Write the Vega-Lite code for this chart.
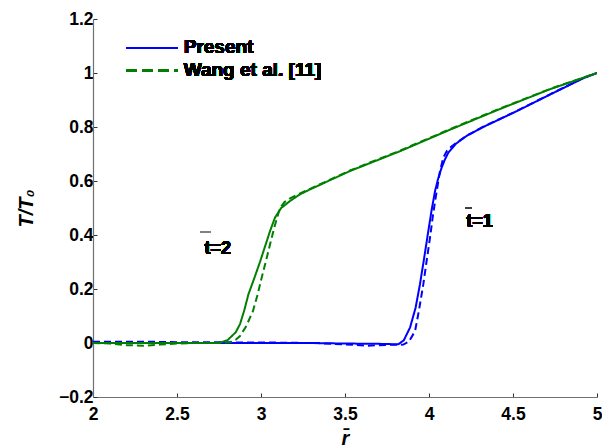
{
  "$schema": "https://vega.github.io/schema/vega-lite/v6.json",
  "width": 504,
  "height": 378,
  "autosize": {"type": "none"},
  "padding": {"left": 93, "top": 19, "right": 5, "bottom": 51},
  "background": "white",
  "config": {
    "view": {"stroke": null},
    "font": "Liberation Sans",
    "axis": {
      "grid": false,
      "labelFont": "Liberation Sans",
      "labelFontWeight": "bold",
      "labelFontSize": 17.5,
      "labelColor": "#000000",
      "labelFlush": false,
      "labelOverlap": false,
      "domainColor": "#707070",
      "domainWidth": 1.2,
      "tickColor": "#303030",
      "tickSize": -4,
      "labelPadding": 4,
      "titleFont": "Liberation Sans",
      "titleFontWeight": "bold",
      "titleFontStyle": "italic",
      "titleFontSize": 20,
      "titleColor": "#000000"
    }
  },
  "data": {
    "values": [
      {"r": 2.0, "T": 0.0, "t": "t1", "src": "Present"},
      {"r": 2.5, "T": 0.0, "t": "t1", "src": "Present"},
      {"r": 3.0, "T": 0.0, "t": "t1", "src": "Present"},
      {"r": 3.3, "T": 0.0, "t": "t1", "src": "Present"},
      {"r": 3.5, "T": -0.002, "t": "t1", "src": "Present"},
      {"r": 3.7, "T": -0.003, "t": "t1", "src": "Present"},
      {"r": 3.817, "T": -0.005, "t": "t1", "src": "Present"},
      {"r": 3.85, "T": 0.01, "t": "t1", "src": "Present"},
      {"r": 3.887, "T": 0.057, "t": "t1", "src": "Present"},
      {"r": 3.92, "T": 0.13, "t": "t1", "src": "Present"},
      {"r": 3.946, "T": 0.217, "t": "t1", "src": "Present"},
      {"r": 3.97, "T": 0.31, "t": "t1", "src": "Present"},
      {"r": 3.996, "T": 0.415, "t": "t1", "src": "Present"},
      {"r": 4.015, "T": 0.49, "t": "t1", "src": "Present"},
      {"r": 4.036, "T": 0.563, "t": "t1", "src": "Present"},
      {"r": 4.055, "T": 0.61, "t": "t1", "src": "Present"},
      {"r": 4.075, "T": 0.649, "t": "t1", "src": "Present"},
      {"r": 4.095, "T": 0.68, "t": "t1", "src": "Present"},
      {"r": 4.115, "T": 0.705, "t": "t1", "src": "Present"},
      {"r": 4.16, "T": 0.738, "t": "t1", "src": "Present"},
      {"r": 4.224, "T": 0.767, "t": "t1", "src": "Present"},
      {"r": 4.323, "T": 0.8, "t": "t1", "src": "Present"},
      {"r": 4.442, "T": 0.835, "t": "t1", "src": "Present"},
      {"r": 4.52, "T": 0.858, "t": "t1", "src": "Present"},
      {"r": 4.72, "T": 0.92, "t": "t1", "src": "Present"},
      {"r": 4.92, "T": 0.981, "t": "t1", "src": "Present"},
      {"r": 5.0, "T": 1.0, "t": "t1", "src": "Present"},

      {"r": 2.0, "T": 0.005, "t": "t1", "src": "Wang"},
      {"r": 2.3, "T": 0.005, "t": "t1", "src": "Wang"},
      {"r": 2.5, "T": 0.003, "t": "t1", "src": "Wang"},
      {"r": 3.0, "T": 0.002, "t": "t1", "src": "Wang"},
      {"r": 3.3, "T": 0.0, "t": "t1", "src": "Wang"},
      {"r": 3.5, "T": -0.005, "t": "t1", "src": "Wang"},
      {"r": 3.63, "T": -0.01, "t": "t1", "src": "Wang"},
      {"r": 3.75, "T": -0.007, "t": "t1", "src": "Wang"},
      {"r": 3.847, "T": -0.006, "t": "t1", "src": "Wang"},
      {"r": 3.88, "T": 0.005, "t": "t1", "src": "Wang"},
      {"r": 3.917, "T": 0.044, "t": "t1", "src": "Wang"},
      {"r": 3.94, "T": 0.12, "t": "t1", "src": "Wang"},
      {"r": 3.966, "T": 0.217, "t": "t1", "src": "Wang"},
      {"r": 3.985, "T": 0.3, "t": "t1", "src": "Wang"},
      {"r": 4.006, "T": 0.39, "t": "t1", "src": "Wang"},
      {"r": 4.025, "T": 0.48, "t": "t1", "src": "Wang"},
      {"r": 4.046, "T": 0.563, "t": "t1", "src": "Wang"},
      {"r": 4.065, "T": 0.635, "t": "t1", "src": "Wang"},
      {"r": 4.085, "T": 0.686, "t": "t1", "src": "Wang"},
      {"r": 4.105, "T": 0.71, "t": "t1", "src": "Wang"},
      {"r": 4.125, "T": 0.723, "t": "t1", "src": "Wang"},
      {"r": 4.16, "T": 0.74, "t": "t1", "src": "Wang"},
      {"r": 4.224, "T": 0.768, "t": "t1", "src": "Wang"},
      {"r": 4.323, "T": 0.801, "t": "t1", "src": "Wang"},
      {"r": 4.442, "T": 0.836, "t": "t1", "src": "Wang"},
      {"r": 4.52, "T": 0.859, "t": "t1", "src": "Wang"},
      {"r": 4.72, "T": 0.921, "t": "t1", "src": "Wang"},
      {"r": 4.92, "T": 0.982, "t": "t1", "src": "Wang"},
      {"r": 5.0, "T": 1.0, "t": "t1", "src": "Wang"},

      {"r": 2.0, "T": 0.0, "t": "t2", "src": "Present"},
      {"r": 2.3, "T": 0.0, "t": "t2", "src": "Present"},
      {"r": 2.6, "T": 0.0, "t": "t2", "src": "Present"},
      {"r": 2.745, "T": 0.0, "t": "t2", "src": "Present"},
      {"r": 2.8, "T": 0.01, "t": "t2", "src": "Present"},
      {"r": 2.85, "T": 0.04, "t": "t2", "src": "Present"},
      {"r": 2.875, "T": 0.07, "t": "t2", "src": "Present"},
      {"r": 2.9, "T": 0.12, "t": "t2", "src": "Present"},
      {"r": 2.925, "T": 0.18, "t": "t2", "src": "Present"},
      {"r": 2.96, "T": 0.24, "t": "t2", "src": "Present"},
      {"r": 2.994, "T": 0.3, "t": "t2", "src": "Present"},
      {"r": 3.02, "T": 0.35, "t": "t2", "src": "Present"},
      {"r": 3.054, "T": 0.415, "t": "t2", "src": "Present"},
      {"r": 3.083, "T": 0.464, "t": "t2", "src": "Present"},
      {"r": 3.12, "T": 0.5, "t": "t2", "src": "Present"},
      {"r": 3.173, "T": 0.526, "t": "t2", "src": "Present"},
      {"r": 3.23, "T": 0.55, "t": "t2", "src": "Present"},
      {"r": 3.292, "T": 0.569, "t": "t2", "src": "Present"},
      {"r": 3.53, "T": 0.637, "t": "t2", "src": "Present"},
      {"r": 3.83, "T": 0.711, "t": "t2", "src": "Present"},
      {"r": 4.125, "T": 0.79, "t": "t2", "src": "Present"},
      {"r": 4.42, "T": 0.866, "t": "t2", "src": "Present"},
      {"r": 4.72, "T": 0.94, "t": "t2", "src": "Present"},
      {"r": 5.0, "T": 1.0, "t": "t2", "src": "Present"},

      {"r": 2.0, "T": 0.0, "t": "t2", "src": "Wang"},
      {"r": 2.1, "T": -0.002, "t": "t2", "src": "Wang"},
      {"r": 2.2, "T": -0.008, "t": "t2", "src": "Wang"},
      {"r": 2.3, "T": -0.01, "t": "t2", "src": "Wang"},
      {"r": 2.4, "T": -0.006, "t": "t2", "src": "Wang"},
      {"r": 2.5, "T": -0.002, "t": "t2", "src": "Wang"},
      {"r": 2.6, "T": 0.0, "t": "t2", "src": "Wang"},
      {"r": 2.75, "T": 0.0, "t": "t2", "src": "Wang"},
      {"r": 2.815, "T": 0.003, "t": "t2", "src": "Wang"},
      {"r": 2.85, "T": 0.012, "t": "t2", "src": "Wang"},
      {"r": 2.875, "T": 0.026, "t": "t2", "src": "Wang"},
      {"r": 2.91, "T": 0.06, "t": "t2", "src": "Wang"},
      {"r": 2.952, "T": 0.118, "t": "t2", "src": "Wang"},
      {"r": 2.98, "T": 0.18, "t": "t2", "src": "Wang"},
      {"r": 3.004, "T": 0.242, "t": "t2", "src": "Wang"},
      {"r": 3.03, "T": 0.305, "t": "t2", "src": "Wang"},
      {"r": 3.054, "T": 0.366, "t": "t2", "src": "Wang"},
      {"r": 3.08, "T": 0.43, "t": "t2", "src": "Wang"},
      {"r": 3.113, "T": 0.5, "t": "t2", "src": "Wang"},
      {"r": 3.14, "T": 0.522, "t": "t2", "src": "Wang"},
      {"r": 3.17, "T": 0.535, "t": "t2", "src": "Wang"},
      {"r": 3.22, "T": 0.55, "t": "t2", "src": "Wang"},
      {"r": 3.292, "T": 0.571, "t": "t2", "src": "Wang"},
      {"r": 3.53, "T": 0.639, "t": "t2", "src": "Wang"},
      {"r": 3.83, "T": 0.713, "t": "t2", "src": "Wang"},
      {"r": 4.125, "T": 0.792, "t": "t2", "src": "Wang"},
      {"r": 4.42, "T": 0.868, "t": "t2", "src": "Wang"},
      {"r": 4.72, "T": 0.941, "t": "t2", "src": "Wang"},
      {"r": 5.0, "T": 1.0, "t": "t2", "src": "Wang"}
    ]
  },
  "layer": [
    {
      "mark": {"type": "line", "strokeWidth": 2, "clip": true},
      "encoding": {
        "x": {
          "field": "r", "type": "quantitative",
          "scale": {"domain": [2, 5], "nice": false, "zero": false},
          "axis": {"values": [2, 2.5, 3, 3.5, 4, 4.5, 5], "format": "~g", "title": "r̄", "titlePadding": 6, "labelPadding": 12}
        },
        "y": {
          "field": "T", "type": "quantitative",
          "scale": {"domain": [-0.2, 1.2], "nice": false, "zero": false},
          "axis": {"values": [-0.2, 0, 0.2, 0.4, 0.6, 0.8, 1, 1.2], "format": "~g", "title": "T/T₀", "titlePadding": 22}
        },
        "color": {
          "field": "t", "type": "nominal",
          "scale": {"domain": ["t1", "t2"], "range": ["#0000FF", "#008000"]},
          "legend": null
        },
        "strokeDash": {
          "field": "src", "type": "nominal",
          "scale": {"domain": ["Present", "Wang"], "range": [[1, 0], [7, 4]]},
          "legend": null
        },
        "order": {"field": "r", "type": "quantitative"}
      }
    },
    {
      "mark": {"type": "rule", "color": "#0000FF", "strokeWidth": 2},
      "encoding": {
        "x": {"datum": 2.2},
        "x2": {"datum": 2.505},
        "y": {"datum": 1.093}
      }
    },
    {
      "mark": {"type": "rule", "color": "#008000", "strokeWidth": 2, "strokeDash": [10, 6]},
      "encoding": {
        "x": {"datum": 2.2},
        "x2": {"datum": 2.505},
        "y": {"datum": 1.008}
      }
    },
    {
      "mark": {"type": "text", "align": "left", "baseline": "middle", "font": "Liberation Sans", "fontWeight": "bold", "fontSize": 19, "color": "#000000"},
      "encoding": {
        "x": {"datum": 2.54},
        "y": {"datum": 1.095},
        "text": {"value": "Present"}
      }
    },
    {
      "mark": {"type": "text", "align": "left", "baseline": "middle", "font": "Liberation Sans", "fontWeight": "bold", "fontSize": 19, "color": "#000000"},
      "encoding": {
        "x": {"datum": 2.54},
        "y": {"datum": 1.01},
        "text": {"value": "Wang et al. [11]"}
      }
    },
    {
      "mark": {"type": "rule", "color": "#808080", "strokeWidth": 1.5},
      "encoding": {
        "x": {"datum": 2.637},
        "x2": {"datum": 2.702},
        "y": {"datum": 0.411}
      }
    },
    {
      "mark": {"type": "rule", "color": "#404040", "strokeWidth": 1.2},
      "encoding": {
        "x": {"datum": 4.218},
        "x2": {"datum": 4.252},
        "y": {"datum": 0.501}
      }
    },
    {
      "mark": {"type": "text", "align": "left", "baseline": "middle", "font": "Liberation Sans", "fontWeight": "bold", "fontSize": 18, "color": "#000000"},
      "encoding": {
        "x": {"datum": 2.663},
        "y": {"datum": 0.348},
        "text": {"value": "t=2"}
      }
    },
    {
      "mark": {"type": "text", "align": "left", "baseline": "middle", "font": "Liberation Sans", "fontWeight": "bold", "fontSize": 18, "color": "#000000"},
      "encoding": {
        "x": {"datum": 4.222},
        "y": {"datum": 0.448},
        "text": {"value": "t=1"}
      }
    }
  ]
}
